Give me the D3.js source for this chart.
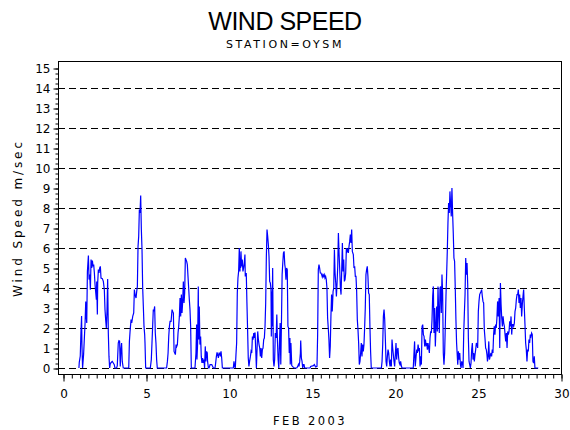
<!DOCTYPE html>
<html>
<head>
<meta charset="utf-8">
<script src="https://cdn.jsdelivr.net/npm/d3@7"></script>
<style>
  body { margin: 0; background: #fff; }
  text { font-family: "DejaVu Sans", sans-serif; fill: #000; }
</style>
</head>
<body>
<script>
// Hourly-ish wind speed readings, Feb 2003 (day of month, m/sec)
var days = [0.96, 0.98, 1.04, 1.08, 1.12, 1.14, 1.18, 1.24, 1.33, 1.37, 1.39, 1.43, 1.47, 1.53, 1.57, 1.61, 1.65, 1.69, 1.73, 1.77,
  1.81, 1.85, 1.89, 1.93, 2.01, 2.03, 2.07, 2.09, 2.13, 2.17, 2.21, 2.25, 2.29, 2.37, 2.43, 2.49, 2.53, 2.57, 2.61, 2.65,
  2.69, 2.73, 2.77, 2.81, 2.85, 2.93, 2.97, 3.03, 3.09, 3.13, 3.23, 3.27, 3.33, 3.37, 3.41, 3.45, 3.49, 3.53, 3.57, 3.63,
  3.96, 4.0, 4.04, 4.1, 4.14, 4.2, 4.26, 4.3, 4.34, 4.4, 4.44, 4.48, 4.52, 4.56, 4.6, 4.64, 4.68, 4.72, 4.76, 4.8,
  4.84, 4.88, 4.92, 4.94, 4.98, 5.26, 5.32, 5.36, 5.4, 5.44, 5.48, 5.52, 5.56, 5.6, 5.64, 5.68, 6.24, 6.29, 6.33, 6.37,
  6.41, 6.45, 6.51, 6.57, 6.61, 6.65, 6.69, 6.73, 6.77, 6.81, 6.85, 6.89, 6.93, 6.97, 7.01, 7.05, 7.09, 7.13, 7.17, 7.21,
  7.25, 7.29, 7.33, 7.37, 7.41, 7.45, 7.49, 7.53, 7.57, 7.61, 7.65, 7.69, 7.73, 7.95, 8.01, 8.05, 8.07, 8.11, 8.15, 8.17,
  8.21, 8.25, 8.29, 8.33, 8.37, 8.41, 8.45, 8.49, 8.53, 8.57, 8.61, 8.65, 8.69, 8.71, 8.76, 8.8, 8.86, 8.96, 9.06, 9.16,
  9.2, 9.24, 9.28, 9.32, 9.36, 9.4, 9.44, 9.48, 9.52, 9.56, 9.6, 10.26, 10.3, 10.34, 10.38, 10.42, 10.46, 10.5, 10.54, 10.58,
  10.62, 10.66, 10.68, 10.7, 10.72, 10.76, 10.8, 10.84, 10.88, 10.92, 10.96, 10.98, 11.04, 11.08, 11.12, 11.16, 11.2, 11.24, 11.29, 11.33,
  11.37, 11.41, 11.45, 11.49, 11.53, 11.57, 11.61, 11.65, 11.69, 11.73, 11.77, 11.81, 11.85, 11.89, 11.93, 11.97, 12.01, 12.05, 12.09, 12.13,
  12.17, 12.21, 12.25, 12.29, 12.33, 12.37, 12.41, 12.45, 12.49, 12.53, 12.55, 12.57, 12.59, 12.63, 12.67, 12.71, 12.75, 12.79, 12.84, 12.88,
  12.92, 12.96, 13.0, 13.04, 13.08, 13.12, 13.16, 13.2, 13.24, 13.28, 13.32, 13.36, 13.39, 13.43, 13.47, 13.51, 13.55, 13.59, 13.63, 13.67,
  13.69, 13.73, 13.78, 13.88, 13.94, 14.08, 14.14, 14.18, 14.22, 14.26, 14.3, 14.32, 14.36, 14.4, 14.44, 14.48, 14.52, 14.56, 14.7, 14.88,
  14.92, 15.08, 15.14, 15.22, 15.3, 15.34, 15.38, 15.42, 15.46, 15.5, 15.54, 15.58, 15.62, 15.66, 15.7, 15.74, 15.78, 15.82, 15.86, 15.9,
  15.94, 15.98, 16.02, 16.06, 16.1, 16.14, 16.18, 16.22, 16.27, 16.31, 16.35, 16.39, 16.43, 16.47, 16.51, 16.55, 16.59, 16.63, 16.67, 16.71,
  16.75, 16.79, 16.83, 16.87, 16.91, 16.95, 16.99, 17.03, 17.07, 17.11, 17.15, 17.19, 17.23, 17.27, 17.31, 17.35, 17.39, 17.43, 17.49, 17.53,
  17.57, 17.61, 17.65, 17.69, 17.73, 17.77, 17.81, 17.85, 17.89, 17.93, 17.97, 18.01, 18.05, 18.09, 18.13, 18.17, 18.21, 18.25, 18.29, 18.33,
  18.37, 18.41, 18.45, 18.49, 18.53, 18.57, 19.18, 19.22, 19.26, 19.3, 19.34, 19.38, 19.42, 19.46, 19.5, 19.54, 19.58, 19.62, 19.66, 19.7,
  19.74, 19.78, 19.82, 19.86, 19.9, 19.94, 19.98, 20.02, 20.06, 20.1, 20.14, 20.18, 20.22, 20.26, 20.3, 20.34, 20.38, 20.42, 21.1, 21.14,
  21.18, 21.22, 21.27, 21.31, 21.35, 21.39, 21.43, 21.47, 21.51, 21.55, 21.59, 21.63, 21.67, 21.71, 21.75, 21.79, 21.83, 21.87, 21.91, 21.95,
  21.99, 22.03, 22.07, 22.11, 22.15, 22.19, 22.23, 22.27, 22.31, 22.35, 22.39, 22.43, 22.47, 22.51, 22.55, 22.59, 22.63, 22.67, 22.71, 22.75,
  22.79, 22.83, 22.87, 22.91, 22.95, 22.99, 23.03, 23.07, 23.11, 23.15, 23.19, 23.23, 23.27, 23.31, 23.35, 23.39, 23.43, 23.47, 23.51, 23.55,
  23.59, 23.63, 23.67, 23.71, 23.78, 23.82, 23.86, 23.9, 23.94, 23.98, 24.02, 24.06, 24.1, 24.14, 24.18, 24.22, 24.26, 24.3, 24.34, 24.38,
  24.42, 24.46, 24.5, 24.54, 24.58, 24.62, 24.66, 24.7, 24.74, 24.78, 24.82, 24.86, 24.9, 24.94, 24.98, 25.02, 25.06, 25.1, 25.14, 25.18,
  25.22, 25.26, 25.3, 25.34, 25.38, 25.42, 25.46, 25.5, 25.54, 25.57, 25.61, 25.65, 25.69, 25.73, 25.78, 25.82, 25.86, 25.9, 25.94, 25.98,
  26.02, 26.06, 26.1, 26.14, 26.18, 26.22, 26.27, 26.31, 26.35, 26.39, 26.43, 26.47, 26.51, 26.55, 26.59, 26.63, 26.67, 26.71, 26.75, 26.79,
  26.83, 26.87, 26.91, 26.95, 26.99, 27.03, 27.07, 27.11, 27.15, 27.19, 27.23, 27.27, 27.31, 27.35, 27.39, 27.43, 27.47, 27.51, 27.55, 27.59,
  27.63, 27.67, 27.71, 27.75, 27.79, 27.83, 27.87, 27.91, 27.95, 27.99, 28.03, 28.07, 28.11, 28.15, 28.19, 28.23, 28.27, 28.31, 28.35, 28.39,
  28.43, 28.63]
var speeds = [0, 0.28, 0.6, 1.75, 2.6, 1.2, 0, 0.67, 2.25, 3.33, 2.75, 2.25, 4.83, 5.62, 4.42, 4.67, 3.92, 5.42, 5.0, 5.37,
  5.08, 5.17, 4.75, 4.17, 3.42, 4.33, 2.67, 4.25, 4.92, 4.75, 5.0, 5.08, 4.5, 4.47, 4.33, 3.92, 2.92, 2.42, 2.0, 2.83,
  4.45, 1.75, 0.58, 0, 0.22, 0.3, 0.33, 0.25, 0.17, 0, 0, 0.12, 1.25, 1.37, 1.35, 0.08, 0.92, 1.25, 0.33, 0,
  0, 1.33, 1.83, 2.42, 2.25, 2.58, 2.75, 3.92, 3.67, 3.5, 3.83, 4.08, 6.08, 6.58, 7.92, 7.75, 8.62, 6.92, 5.92, 4.0,
  3.08, 2.08, 1.67, 1.25, 0, 0, 0.42, 1.25, 2.08, 2.92, 2.83, 3.08, 1.75, 1.25, 0.42, 0, 0, 0.33, 0.75, 1.58,
  2.08, 2.33, 2.33, 2.92, 2.83, 2.75, 0.83, 0.75, 0.67, 1.17, 1.08, 1.17, 1.75, 2.08, 2.58, 3.5, 2.58, 3.67, 2.75, 3.33,
  4.33, 3.25, 3.75, 5.5, 5.42, 5.33, 5.17, 4.58, 4.0, 3.42, 2.92, 2.08, 0, 0, 0.75, 2.17, 0.42, 1.25, 4.08, 1.42,
  3.08, 1.17, 1.58, 0.58, 0.25, 0.5, 0.25, 0.42, 0, 1.08, 0.33, 0.83, 0.75, 0.33, 0, 0, 0.17, 0.17, 0, 0,
  0.28, 0.58, 0.78, 0.67, 0.5, 0.75, 0.75, 0.58, 0.83, 0.5, 0, 0, 0.33, 0.08, 0, 0.67, 1.25, 3.75, 4.5, 4.83,
  6.0, 4.83, 5.42, 5.0, 5.83, 5.08, 5.42, 4.83, 5.0, 5.25, 5.67, 4.58, 4.75, 3.25, 1.92, 0.5, 0.08, 0.33, 0.58, 0.83,
  0.75, 1.58, 1.42, 1.75, 1.5, 1.78, 0.92, 0, 0.92, 1.83, 1.42, 1.17, 1.0, 0.58, 1.0, 0.5, 0.92, 1.0, 1.42, 1.5,
  2.08, 3.25, 5.58, 6.92, 6.58, 6.17, 5.58, 4.33, 4.25, 3.92, 1.58, 3.83, 2.08, 5.0, 0.42, 0.08, 0.42, 1.75, 1.5, 2.67,
  1.33, 0.42, 0, 1.25, 2.25, 0.17, 2.25, 4.67, 5.25, 5.75, 5.83, 5.17, 5.0, 4.42, 5.0, 4.92, 2.08, 2.0, 0.75, 1.5,
  0.17, 1.25, 0.12, 0.03, 0, 0, 0.08, 0.17, 0.08, 0.33, 0.75, 1.37, 0.5, 0.33, 0, 0.17, 0.17, 0, 0, 0,
  0.08, 0.12, 0.17, 0.05, 0.08, 1.67, 4.92, 5.17, 5.0, 4.75, 4.75, 4.67, 4.55, 4.67, 4.58, 4.67, 4.5, 4.58, 4.42, 4.0,
  2.5, 2.0, 1.42, 0.5, 1.08, 2.58, 3.67, 2.83, 3.83, 4.0, 5.92, 4.75, 4.25, 3.58, 4.25, 5.08, 6.75, 5.75, 4.92, 4.0,
  3.67, 4.92, 6.25, 4.83, 5.42, 4.33, 4.42, 4.75, 6.0, 5.83, 5.92, 5.75, 6.08, 6.33, 6.67, 6.25, 6.92, 5.83, 5.67, 5.0,
  5.08, 4.58, 4.58, 3.83, 2.42, 1.92, 1.25, 0.17, 0.33, 0.75, 1.25, 0.58, 1.17, 0.83, 1.17, 2.0, 3.0, 4.67, 4.92, 5.08,
  4.58, 3.75, 3.67, 2.08, 0.83, 0, 0, 0.33, 1.17, 2.58, 2.92, 2.42, 1.42, 0.33, 0.08, 0.58, 0.92, 0.75, 0.33, 0.08,
  0.42, 0.08, 1.42, 1.0, 0.67, 0.33, 0.08, 0.67, 1.25, 0.42, 0.92, 1.0, 0.5, 0.25, 0.17, 0.33, 0.12, 0, 0, 0.67,
  1.33, 0.08, 0.58, 0.92, 0.75, 1.17, 0.92, 1.0, 0.08, 0.58, 0.17, 2.08, 2.17, 1.67, 1.58, 1.08, 1.42, 1.17, 1.25, 0.92,
  1.25, 1.0, 0.75, 1.5, 1.83, 1.75, 2.42, 3.58, 4.08, 1.75, 3.0, 1.08, 2.08, 3.08, 1.83, 4.08, 2.75, 1.75, 4.0, 4.08,
  2.75, 4.67, 3.75, 0.75, 0.17, 0.75, 2.08, 3.58, 4.67, 5.83, 7.25, 8.25, 7.75, 8.83, 8.17, 7.58, 9.0, 7.75, 6.75, 5.5,
  5.33, 4.0, 2.42, 1.25, 0.17, 0.83, 0.42, 0.75, 0.17, 0, 0.33, 0.25, 0, 1.75, 2.75, 3.67, 5.5, 4.67, 5.25, 4.17,
  1.5, 0.33, 0.17, 0, 0.25, 0.92, 1.25, 0.42, 0.75, 0.33, 0.67, 0.92, 1.25, 1.17, 1.0, 2.83, 3.33, 3.67, 3.75, 3.83,
  3.92, 3.58, 3.33, 3.25, 1.92, 1.5, 1.0, 0.92, 0.67, 0.33, 0.58, 1.33, 0.42, 0.58, 0.75, 0.58, 0.92, 0.75, 1.67, 2.08,
  1.67, 2.17, 2.0, 2.5, 3.33, 2.58, 3.5, 1.0, 4.25, 3.17, 2.5, 2.08, 2.58, 2.25, 2.08, 1.67, 1.33, 1.75, 1.0, 1.83,
  1.67, 1.83, 2.33, 2.08, 2.58, 1.67, 2.17, 2.17, 2.08, 2.25, 2.83, 3.0, 3.42, 3.67, 3.67, 3.92, 3.25, 3.67, 3.0, 3.5,
  2.58, 3.17, 3.58, 3.92, 3.0, 2.17, 1.25, 0.92, 0.33, 0.92, 0.83, 1.42, 1.25, 1.67, 1.58, 1.75, 1.67, 0.33, 0.25, 0.58,
  0, 0]

var xTicks = [0, 5, 10, 15, 20, 25, 30]
var yTicks = [0, 1, 2, 3, 4, 5, 6, 7, 8, 9, 10, 11, 12, 13, 14, 15]
var gridLevels = [0, 2, 4, 6, 8, 10, 12, 14]
var titleText = "WIND SPEED"
var subtitleText = "STATION=OYSM"
var xLabel = "FEB 2003"
var yLabel = "Wind Speed m/sec"

function main() {
    var width = 570, height = 430
    var frame = {left: 58, right: 561, top: 61, bottom: 374}

    var svg = d3.select('body').append('svg')
        .attr('width', width)
        .attr('height', height)

    svg.append('rect')
        .attr('width', width).attr('height', height)
        .attr('fill', '#fff')

    var xScale = d3.scaleLinear().domain([0, 30]).range([63, 561])
    var yScale = d3.scaleLinear().domain([0, 15]).range([368, 68])

    // Titles
    svg.append('text')
        .attr('x', 285).attr('y', 30)
        .attr('text-anchor', 'middle')
        .style('font-family', '"Liberation Sans", Arial, sans-serif')
        .style('font-size', '25px')
        .style('letter-spacing', '-0.5px')
        .text(titleText)

    svg.append('text')
        .attr('x', 285).attr('y', 48)
        .attr('text-anchor', 'middle')
        .style('font-size', '11px')
        .style('letter-spacing', '2.6px')
        .text(subtitleText)

    // Dashed reference lines
    svg.append('g').selectAll('line')
        .data(gridLevels)
        .enter().append('line')
        .attr('x1', frame.left).attr('x2', frame.right)
        .attr('y1', function(d) { return yScale(d) + 0.5 })
        .attr('y2', function(d) { return yScale(d) + 0.5 })
        .attr('stroke', '#000')
        .attr('stroke-dasharray', '7,4')

    // Wind speed line
    var line = d3.line()
        .x(function(d, i) { return xScale(days[i]) })
        .y(function(d) { return yScale(d) })

    svg.append('path')
        .datum(speeds)
        .attr('d', line)
        .attr('fill', 'none')
        .attr('stroke', '#0000ff')
        .attr('stroke-width', 1.2)

    // Frame
    svg.append('rect')
        .attr('x', frame.left + 0.5).attr('y', frame.top + 0.5)
        .attr('width', frame.right - frame.left)
        .attr('height', frame.bottom - frame.top)
        .attr('fill', 'none')
        .attr('stroke', '#000')

    // Y axis
    var yMinor = d3.range(0, 15.01, 0.25)
    svg.append('g')
        .attr('transform', 'translate(' + (frame.left + 0.5) + ',0.5)')
        .call(d3.axisLeft(yScale).tickValues(yMinor).tickSize(3).tickFormat(''))
        .call(function(g) { g.select('.domain').remove() })
    svg.append('g')
        .attr('transform', 'translate(' + (frame.left + 0.5) + ',0.5)')
        .call(d3.axisLeft(yScale).tickValues(yTicks).tickSize(5).tickPadding(3).tickFormat(d3.format('d')))
        .call(function(g) {
            g.select('.domain').remove()
            g.selectAll('text').style('font-family', '"DejaVu Sans", sans-serif')
                .style('font-size', '12px').attr('dy', '0.35em')
        })

    // X axis
    var xMinor = d3.range(0, 30.01, 0.5)
    svg.append('g')
        .attr('transform', 'translate(0.5,' + (frame.bottom + 0.5) + ')')
        .call(d3.axisBottom(xScale).tickValues(xMinor).tickSize(4).tickFormat(''))
        .call(function(g) { g.select('.domain').remove() })
    svg.append('g')
        .attr('transform', 'translate(0.5,' + (frame.bottom + 0.5) + ')')
        .call(d3.axisBottom(xScale).tickValues(xTicks).tickSize(7).tickPadding(8).tickFormat(d3.format('d')))
        .call(function(g) {
            g.select('.domain').remove()
            g.selectAll('text').style('font-family', '"DejaVu Sans", sans-serif')
                .style('font-size', '12px')
        })

    // Axis labels
    svg.append('text')
        .attr('x', 310).attr('y', 425)
        .attr('text-anchor', 'middle')
        .style('font-size', '11.5px')
        .style('letter-spacing', '2.4px')
        .text(xLabel)

    svg.append('text')
        .attr('transform', 'translate(22,218) rotate(-90)')
        .attr('text-anchor', 'middle')
        .style('font-size', '12px')
        .style('letter-spacing', '2.9px')
        .text(yLabel)
}
main()
</script>
</body>
</html>
